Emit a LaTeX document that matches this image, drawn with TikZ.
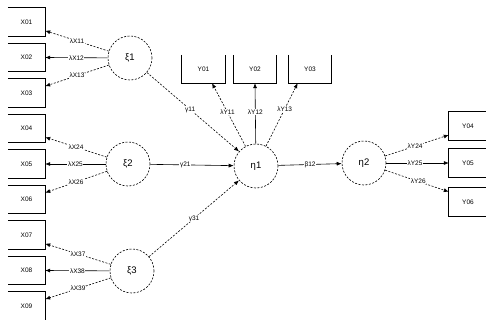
\documentclass[tikz,border=0pt]{standalone}
\usepackage{fontspec}
\setmainfont{Liberation Sans}
\usetikzlibrary{arrows.meta}
\begin{document}
\begin{tikzpicture}[x=1pt,y=-1pt,
  obs/.style={minimum width=37pt,minimum height=28pt,inner sep=0pt,font=\fontsize{6.5}{7.5}\selectfont},
  obstop/.style={obs,minimum width=43pt},
  obsright/.style={obs,minimum width=38pt},
  boxline/.style={line width=0.8pt},
  lat/.style={circle,draw,dash pattern=on 2pt off 1.5pt,line width=0.6pt,minimum size=44pt,inner sep=0pt,font=\fontsize{9.5}{11}\selectfont},
  conn/.style={-{Latex[length=5pt,width=4pt]},line width=0.6pt,dash pattern=on 2pt off 1.5pt},
  connsolid/.style={-{Latex[length=5pt,width=4pt]},line width=0.6pt,solid},
  lab/.style={fill=white,inner sep=0.6pt,font=\fontsize{6.5}{7}\selectfont}]
\useasboundingbox (0,0) rectangle (486,320);
\fill[white] (0,0) rectangle (486,320);

% observed x boxes (left)
\foreach \i/\y in {1/22,2/57.5,3/93,4/128.5,5/164,6/199.5,7/235,8/270.5,9/306}{
  \node[obs] (x\i) at (26.5,\y) {X0\i};
  \draw[boxline] (x\i.north west) -- (x\i.north east) -- (x\i.south east) -- (x\i.south west);
}
% observed y boxes (top)
\foreach \i/\x in {1/203.5,2/255,3/310}{
  \node[obstop] (y\i) at (\x,69) {Y0\i};
  \draw[boxline] (y\i.north west) -- (y\i.south west) -- (y\i.south east) -- (y\i.north east);
}
% observed y boxes (right)
\foreach \i/\y in {4/126,5/163,6/202}{
  \node[obsright] (y\i) at (468,\y) {Y0\i};
  \draw[boxline] (y\i.north east) -- (y\i.north west) -- (y\i.south west) -- (y\i.south east);
}

% latent variables
\node[lat] (k1) at (130,58) {ξ1};
\node[lat] (k2) at (128,164) {ξ2};
\node[lat] (k3) at (132,271) {ξ3};
\node[lat] (e1) at (256,166) {η1};
\node[lat] (e2) at (364,163) {η2};

% measurement paths of xi
\draw[conn] (k1) -- node[lab]{λX11} (x1.-25);
\draw[connsolid] (k1) -- node[lab]{λX12} (x2.east);
\draw[conn] (k1) -- node[lab]{λX13} (x3.20);
\draw[conn] (k2) -- node[lab]{λX24} (x4.-25);
\draw[connsolid] (k2) -- node[lab]{λX25} (x5.east);
\draw[conn] (k2) -- node[lab]{λX26} (x6.20);
\draw[conn] (k3) -- node[lab]{λX37} (x7.-25);
\draw[connsolid] (k3) -- node[lab]{λX38} (x8.east);
\draw[conn] (k3) -- node[lab]{λX39} (x9.20);

% structural paths
\draw[conn] (k1) -- node[lab,pos=0.47]{γ11} (e1);
\draw[connsolid] (k2) -- node[lab,pos=0.42]{γ21} (e1);
\draw[conn] (k3) -- node[lab]{γ31} (e1);
\draw[connsolid] (e1) -- node[lab]{β12} (e2);

% measurement paths of eta
\draw[conn] (e1) -- node[lab,pos=0.54]{λY11} (y1.-59);
\draw[connsolid] (e1) -- node[lab,pos=0.52]{λY12} (y2.south);
\draw[conn] (e1) -- node[lab,pos=0.59]{λY13} (y3.-131);
\draw[conn] (e2) -- node[lab,pos=0.47]{λY24} (y4.-155);
\draw[connsolid] (e2) -- node[lab,pos=0.46]{λY25} (y5.west);
\draw[conn] (e2) -- node[lab,pos=0.52]{λY26} (y6.152);
\end{tikzpicture}
\end{document}
